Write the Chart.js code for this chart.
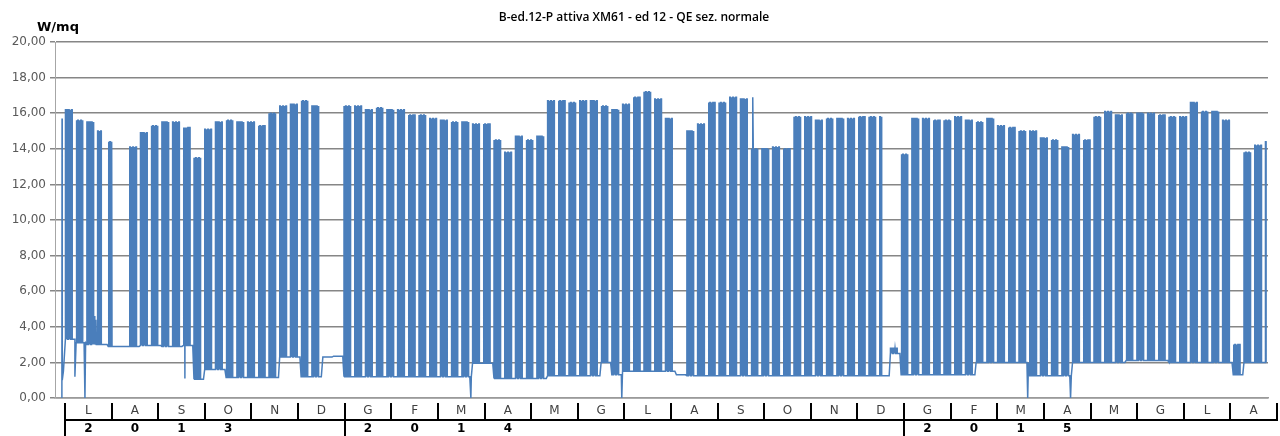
<!DOCTYPE html>
<html lang="it">
<head>
<meta charset="utf-8">
<title>B-ed.12-P attiva XM61</title>
<script src="https://cdn.jsdelivr.net/npm/chart.js@4/dist/chart.umd.min.js"></script>
<style>
    html, body { margin: 0; padding: 0; background: #fff; }
    #contenitore { width: 1280px; height: 436px; position: relative; }
</style>
</head>
<body>
<div id="contenitore"><canvas id="graficoPotenza"></canvas></div>
<script>
// DATI (una voce per settimana, da lunedi 1 luglio 2013)
const picchiSettimana = [
    16.2, 15.6, 15.5, 15.0, 14.4, null, 14.1, 14.9, 15.3, 15.5,
    15.5, 15.2, 13.5, 15.1, 15.5, 15.6, 15.5, 15.5, 15.3, 16.0,
    16.4, 16.5, 16.7, 16.4, null, null, 16.4, 16.4, 16.2, 16.3,
    16.2, 16.2, 15.9, 15.9, 15.7, 15.6, 15.5, 15.5, 15.4, 15.4,
    14.5, 13.8, 14.7, 14.5, 14.7, 16.7, 16.7, 16.6, 16.7, 16.7,
    16.4, 16.2, 16.5, 16.9, 17.2, 16.8, 15.7, null, 15.0, 15.4,
    16.6, 16.6, 16.9, 16.8, 14.0, 14.0, 14.1, 14.0, 15.8, 15.8,
    15.6, 15.7, 15.7, 15.7, 15.8, 15.8, 15.8, 2.8, 13.7, 15.7,
    15.7, 15.6, 15.6, 15.8, 15.6, 15.5, 15.7, 15.3, 15.2, 15.0,
    15.0, 14.6, 14.5, 14.1, 14.8, 14.5, 15.8, 16.1, 15.9, 16.0,
    16.0, 16.0, 15.9, 15.8, 15.8, 16.6, 16.1, 16.1, 15.6, 3.0,
    13.8, 14.2, 14.4
];
const basiSettimana = [
    3.3, 3.1, 3.0, 3.0, 2.9, 2.9, 2.9, 2.95, 2.95, 2.9,
    2.9, 2.95, 1.05, 1.6, 1.6, 1.15, 1.15, 1.15, 1.15, 1.15,
    2.3, 2.3, 1.2, 1.2, 2.3, 2.35, 1.2, 1.2, 1.2, 1.2,
    1.2, 1.2, 1.2, 1.2, 1.2, 1.2, 1.2, 1.2, 1.95, 1.95,
    1.1, 1.1, 1.1, 1.1, 1.1, 1.25, 1.25, 1.25, 1.25, 1.25,
    2.0, 1.3, 1.5, 1.5, 1.5, 1.5, 1.5, 1.3, 1.25, 1.25,
    1.25, 1.25, 1.25, 1.25, 1.25, 1.25, 1.25, 1.25, 1.25, 1.25,
    1.25, 1.25, 1.25, 1.25, 1.25, 1.25, 1.25, 2.5, 1.3, 1.3,
    1.3, 1.3, 1.3, 1.3, 1.3, 2.0, 2.0, 2.0, 2.0, 2.0,
    1.25, 1.25, 1.25, 1.25, 2.0, 2.0, 2.0, 2.0, 2.0, 2.1,
    2.1, 2.1, 2.1, 2.0, 2.0, 2.0, 2.0, 2.0, 2.0, 1.3,
    2.0, 2.0, 2.0
];
// settimane con meno di 5 giorni lavorativi
const settimaneRidotte = [3, 4, 76, 112];
const giorniSettimaneRidotte = [3, 3, 2, 1];
const ultimoGiorno = 784;

// letture singole (cadute a zero, picchi isolati)
const puntiIsolatiGiorno = [-2.0, -1.9, -1.75, -1.0, 6.5, 13.06, 19.3, 20.2, 78.4, 265.2, 363.8, 449.4, 629.0, 657.0];
const puntiIsolatiValore = [0, 15.7, 1.0, 1.5, 1.2, 0, 4.6, 4.4, 1.1, 0, 0, 16.9, 0, 0];

const mesi = ['L', 'A', 'S', 'O', 'N', 'D', 'G', 'F', 'M', 'A', 'M', 'G', 'L', 'A', 'S', 'O', 'N', 'D', 'G', 'F', 'M', 'A', 'M', 'G', 'L', 'A'];
const anni = ['2', '0', '1', '3', '', '', '2', '0', '1', '4', '', '', '', '', '', '', '', '', '2', '0', '1', '5', '', '', '', ''];
const inizioAnni = [0, 6, 18];

const tickY = { min: 0, max: 20, passo: 2 };

// FUNZIONI
function costruisciSerie() {
    const punti = [];
    for (let k = 0; k < picchiSettimana.length; k++) {
        const base = basiSettimana[k];
        const picco = picchiSettimana[k];
        const r = settimaneRidotte.indexOf(k);
        const lavorativi = r >= 0 ? giorniSettimaneRidotte[r] : 5;
        for (let g = 0; g < 7; g++) {
            const giorno = k * 7 + g;
            if (giorno > ultimoGiorno) break;
            if (picco !== null && g < lavorativi) {
                punti.push({ x: giorno + 0.30, y: base });
                punti.push({ x: giorno + 0.34, y: picco });
                punti.push({ x: giorno + 0.72, y: picco });
                punti.push({ x: giorno + 0.76, y: base });
            } else {
                punti.push({ x: giorno + 0.5, y: base });
            }
        }
    }
    puntiIsolatiGiorno.forEach(function (g, i) {
        punti.push({ x: g, y: puntiIsolatiValore[i] });
    });
    punti.sort((a, b) => a.x - b.x);
    return punti;
}

function formattaValore(v) {
    return v.toFixed(2).replace('.', ',');
}

// la tabella mesi/anni e' spostata rispetto all'area del grafico
const pluginTabella = {
    id: 'tabellaMesi',
    afterLayout: function (chart) {
        ['mesi', 'anni'].forEach(function (id) {
            const s = chart.scales[id];
            s.left = 65;
            s.right = 1277;
            s.width = s.right - s.left;
            s.configure();
        });
    },
    afterDraw: function (chart) {
        const ctx = chart.ctx;
        ctx.save();
        ctx.font = 'bold 13px "DejaVu Sans"';
        ctx.fillStyle = '#000';
        ctx.textBaseline = 'middle';
        ctx.textAlign = 'left';
        ctx.fillText('W/mq', 37, 28);
        ctx.restore();
    }
};

function montarGrafico() {
    const ctx = document.getElementById('graficoPotenza').getContext('2d');

    new Chart(ctx, {
        type: 'line',
        data: {
            datasets: [{
                label: 'W/mq',
                data: costruisciSerie(),
                borderColor: '#4a7ebb',
                borderWidth: 1.5,
                pointRadius: 0,
                tension: 0,
                fill: false
            }]
        },
        options: {
            responsive: true,
            maintainAspectRatio: false,
            animation: false,
            events: [],
            layout: { padding: { left: 0, right: 12, top: 0, bottom: 0 } },
            plugins: {
                legend: { display: false },
                tooltip: { enabled: false },
                title: {
                    display: true,
                    text: 'B-ed.12-P attiva XM61 - ed 12 - QE sez. normale',
                    color: '#000',
                    font: { family: '"Open Sans"', size: 12, weight: '600' },
                    padding: { top: 10, bottom: 17.6 }
                }
            },
            scales: {
                x: {
                    type: 'linear',
                    position: 'bottom',
                    weight: 0,
                    min: -6.5,
                    max: 786,
                    ticks: { display: false },
                    grid: { display: false },
                    border: { display: true, color: '#9a9a9a', width: 1.5 },
                    afterFit: function (s) { s.height = 5; }
                },
                mesi: {
                    type: 'category',
                    position: 'bottom',
                    weight: 1,
                    labels: mesi,
                    offset: true,
                    grid: {
                        display: true,
                        drawOnChartArea: false,
                        offset: true,
                        drawTicks: true,
                        tickLength: 17,
                        color: '#000',
                        lineWidth: 2
                    },
                    border: { display: false },
                    ticks: {
                        autoSkip: false,
                        maxRotation: 0,
                        padding: -16,
                        color: '#404040',
                        font: { family: '"DejaVu Sans"', size: 12 }
                    },
                    afterFit: function (s) { s.height = 17; }
                },
                anni: {
                    type: 'category',
                    position: 'bottom',
                    weight: 2,
                    labels: anni,
                    offset: true,
                    grid: {
                        display: true,
                        drawOnChartArea: false,
                        offset: true,
                        drawTicks: true,
                        tickLength: 16,
                        color: function (c) {
                            return inizioAnni.indexOf(c.index) >= 0 ? '#000' : 'rgba(0,0,0,0)';
                        },
                        lineWidth: 2
                    },
                    border: { display: true, color: '#000', width: 2 },
                    ticks: {
                        autoSkip: false,
                        maxRotation: 0,
                        padding: -14,
                        color: '#000',
                        font: { family: '"DejaVu Sans"', size: 12, weight: 'bold' }
                    },
                    afterFit: function (s) { s.height = 16; }
                },
                y: {
                    min: tickY.min,
                    max: tickY.max,
                    ticks: {
                        stepSize: tickY.passo,
                        padding: 4,
                        color: '#595959',
                        font: { family: '"DejaVu Sans"', size: 12 },
                        callback: function (v) { return formattaValore(v); }
                    },
                    grid: { color: '#868686', lineWidth: 1.5, tickLength: 5 },
                    border: { color: '#a6a6a6', width: 1 },
                    afterFit: function (s) { s.width = 55; }
                }
            }
        },
        plugins: [pluginTabella]
    });
}

montarGrafico();
</script>
</body>
</html>
